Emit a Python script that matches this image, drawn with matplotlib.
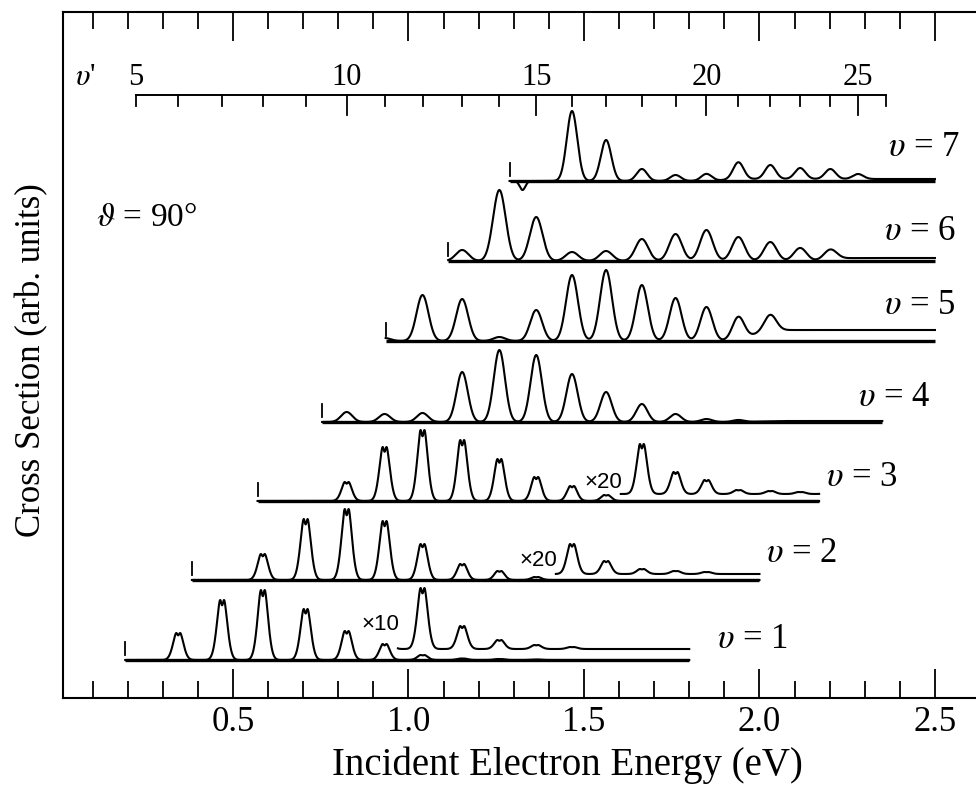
import numpy as np
import matplotlib
matplotlib.use('Agg')
import matplotlib.pyplot as plt
from matplotlib.ticker import FixedLocator, NullLocator

plt.rcParams['font.family'] = ['Liberation Serif', 'DejaVu Serif']
plt.rcParams['mathtext.fontset'] = 'stix'

# resonance (v') positions in eV, v' = 5 .. 26
vprime = list(range(5, 27))
vprime_energy = [0.224, 0.344, 0.469, 0.585, 0.707, 0.824, 0.932, 1.040, 1.153, 1.259,
                 1.364, 1.466, 1.563, 1.665, 1.761, 1.849, 1.940, 2.031, 2.116, 2.202,
                 2.281, 2.361]

# final vibrational level v, its threshold and scan end (eV), baseline offset (arb.)
v_levels = [1, 2, 3, 4, 5, 6, 7]
thresholds = [0.193, 0.383, 0.570, 0.754, 0.935, 1.113, 1.288]
scan_end = [1.80, 2.00, 2.17, 2.35, 2.50, 2.50, 2.50]
offsets = [38, 118, 197, 276, 357, 437, 517]

# peak heights, listed from the first v' given in first_vp
first_vp = [6, 8, 10, 10, 11, 13, 16]
v1_peaks = [27, 60, 70, 51, 29, 16, 5, 1.5, 1, 0.5]
v2_peaks = [26, 61, 71, 59, 36, 16, 9, 3]
v3_peaks = [19, 54, 71, 61, 42, 24, 15, 6]
v4_peaks = [10, 8, 9, 50, 72, 67, 48, 30, 18, 8, 3, 2]
v5_peaks = [3, 46, 42, 4, 31, 66, 71, 56, 43, 34, 23, 16]
v6_peaks = [11, 71, 44, 9, 10, 22, 27, 31, 24, 19, 13, 10]
v7_peaks = [70, 41, 12, 6, 7, 17, 14, 11, 10, 5]
all_peaks = [v1_peaks, v2_peaks, v3_peaks, v4_peaks, v5_peaks, v6_peaks, v7_peaks]
tail_level = [0, 0, 0, 1, 11, 3, 2]
tail_start = [2.0, 2.0, 2.0, 2.0, 1.98, 2.2, 1.9]
peak_width = [0.013, 0.013, 0.013, 0.016, 0.017, 0.018, 0.015]
peak_notch = [0.22, 0.22, 0.22, 0.0, 0.0, 0.0, 0.0]

# label positions for the v = ... texts
label_x = [1.88, 2.02, 2.19, 2.28, 2.355, 2.355, 2.365]
label_y = [58, 145, 221, 301, 393, 466, 550]

# magnified parts of the low v curves (x10, x20)
mag_v = [1, 2, 3]
mag_label = ['×10', '×20', '×20']
mag_start = [0.97, 1.42, 1.605]
mag_bg = [11, 6, 7]
mag_text_y = [35, 19, 19]
mag_first_vp = [11, 15, 17]
mag1_peaks = [40, 61, 23, 9, 4, 2]
mag2_peaks = [14, 30, 13, 5, 3, 2]
mag3_peaks = [6, 50, 22, 14, 4, 3, 2, 2]
mag_peaks = [mag1_peaks, mag2_peaks, mag3_peaks]

# v=7 dip near threshold
v7_dip_pos = 1.325
v7_dip = -9


def shape(dx, width, notch):
    g = np.exp(-0.5 * (dx / width) ** 2)
    if notch > 0:
        g = g * (1 - notch * np.exp(-0.5 * (dx / 0.0035) ** 2))
        grid = np.linspace(-3 * width, 3 * width, 601)
        ref = np.exp(-0.5 * (grid / width) ** 2) * (1 - notch * np.exp(-0.5 * (grid / 0.0035) ** 2))
        g = g / ref.max()
    return g


def curve(x, first, heights, width, notch):
    y = np.zeros_like(x)
    i0 = vprime.index(first)
    for k, h in enumerate(heights):
        y += h * shape(x - vprime_energy[i0 + k], width, notch)
    return y


fig = plt.figure(figsize=(9.76, 7.87), dpi=100)
ax = fig.add_axes([63 / 976, 89 / 787, 913 / 976, 686 / 787])

for i, v in enumerate(v_levels):
    x = np.linspace(thresholds[i], scan_end[i], 2000)
    y = curve(x, first_vp[i], all_peaks[i], peak_width[i], peak_notch[i])
    y += tail_level[i] / (1 + np.exp(-(x - tail_start[i]) / 0.02))
    if v == 7:
        y += v7_dip * np.exp(-0.5 * ((x - v7_dip_pos) / 0.008) ** 2)
    base = offsets[i]
    ax.plot([thresholds[i], scan_end[i]], [base, base], color='black', lw=2.4, solid_capstyle='butt')
    ax.plot(x, base + y, color='black', lw=1.5)
    ax.plot([thresholds[i], thresholds[i]], [base + 5, base + 18], color='black', lw=1.3)
    ax.text(label_x[i], label_y[i], r'$\upsilon$ = %d' % v, fontsize=25, va='center', ha='left')

for j, v in enumerate(mag_v):
    i = v_levels.index(v)
    x = np.linspace(mag_start[j], scan_end[i], 1000)
    y = mag_bg[j] + curve(x, mag_first_vp[j], mag_peaks[j], peak_width[i], peak_notch[i])
    ax.plot(x, offsets[i] + y, color='black', lw=1.5)
    ax.text(mag_start[j] + 0.005, offsets[i] + mag_text_y[j], mag_label[j], fontsize=16,
            family=['Liberation Sans', 'DejaVu Sans'], ha='right', va='center')

# v' scale drawn inside the frame
ybar = 603
ax.plot([vprime_energy[0], vprime_energy[-1]], [ybar, ybar], color='black', lw=1.4)
for n, e in zip(vprime, vprime_energy):
    tl = 20 if (n % 5 == 0 and n > 5) else 11
    ax.plot([e, e], [ybar, ybar - tl], color='black', lw=1.3)
    if n % 5 == 0:
        ax.text(e, ybar + 3, str(n), fontsize=22, ha='center', va='bottom')
ax.text(0.05, ybar + 3, r"$\upsilon$'", fontsize=22, ha='left', va='bottom')
ax.text(0.11, 480, r'$\vartheta$ = 90°', fontsize=24, ha='left', va='center')

ax.set_xlim(0.0157, 2.617)
ax.set_ylim(0, 686)
ax.xaxis.set_major_locator(FixedLocator([0.5, 1.0, 1.5, 2.0, 2.5]))
ax.xaxis.set_minor_locator(FixedLocator(np.round(np.arange(0.1, 2.55, 0.1), 2)))
ax.set_xticklabels(['0.5', '1.0', '1.5', '2.0', '2.5'])
ax.yaxis.set_major_locator(NullLocator())
ax.tick_params(axis='x', which='both', direction='in', top=True, bottom=True,
               labelsize=25, pad=6, width=1.3)
ax.tick_params(axis='x', which='major', length=21)
ax.tick_params(axis='x', which='minor', length=12)
for s in ['left', 'bottom', 'top']:
    ax.spines[s].set_linewidth(1.5)
ax.spines['right'].set_visible(False)

ax.set_xlabel('Incident Electron Energy (eV)', fontsize=28)
ax.xaxis.set_label_coords(0.552, -0.07)
ax.set_ylabel('Cross Section (arb. units)', fontsize=25)
ax.yaxis.set_label_coords(-0.016, 0.493)

fig.savefig('out.png', dpi=100)
